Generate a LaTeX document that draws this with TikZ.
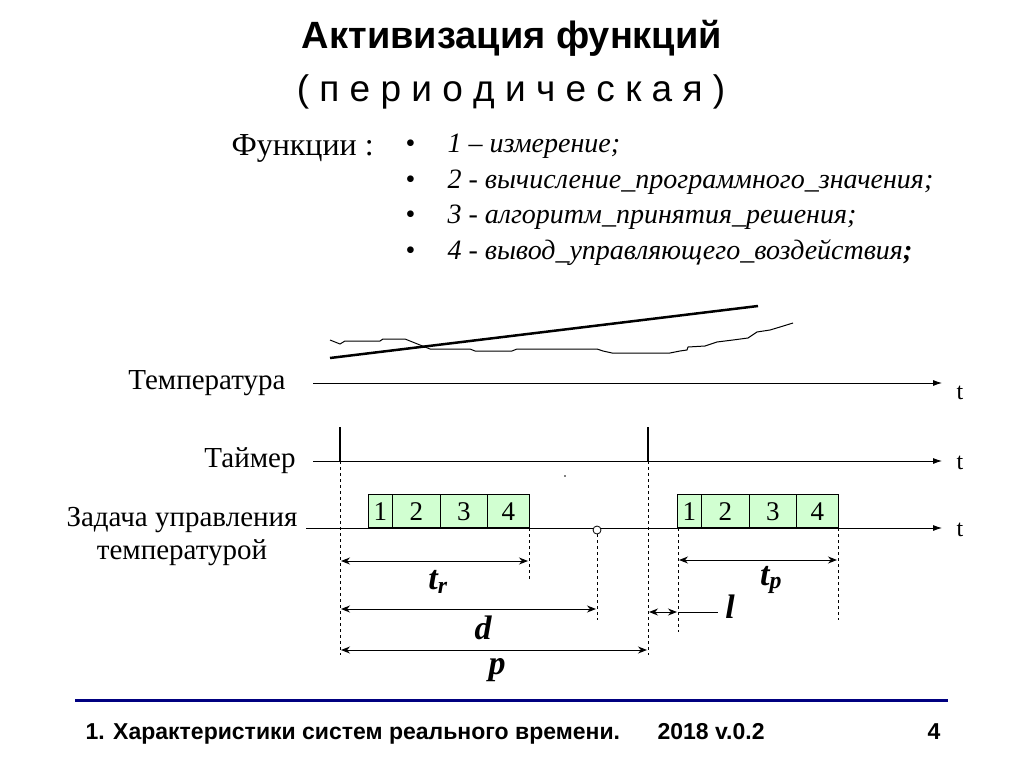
\documentclass[tikz,border=0pt]{standalone}
\usepackage{fontspec}
\setmainfont{Liberation Serif}
\setsansfont{Liberation Sans}
\usetikzlibrary{arrows.meta}
\begin{document}
\begin{tikzpicture}[x=1pt,y=-1pt,
  axis/.style={thick,-{Latex[length=9pt,width=6pt]}},
  dim/.style={line width=1pt,<->,>={Stealth[length=9pt,width=7pt]}},
  dsh/.style={dashed,thin},
  lbl/.style={font=\bfseries\itshape\fontsize{34}{36}\selectfont},
  fbox/.style={draw,thick,fill=green!18,minimum height=33pt,inner sep=0pt,text height=19pt,text depth=0pt,font=\fontsize{27}{28}\selectfont,anchor=south west}]
\useasboundingbox (0,0) rectangle (1024,767);
\node[font=\sffamily\bfseries\fontsize{38}{40}\selectfont] (title) at (512,38) {Активизация функций};
\node[font=\sffamily\fontsize{37}{40}\selectfont] (sub) at (511,92) {( п е р и о д и ч е с к а я )};
\node[font=\fontsize{32}{34}\selectfont,anchor=west] (fn) at (228,148) {Функции :};
\foreach \yy/\t [count=\i] in {146/{1 – измерение;},182/{2 - вычисление\_программного\_значения;},217/{3 - алгоритм\_принятия\_решения;},253/{4 - вывод\_управляющего\_воздействия\textbf{;}}}{
  \node[anchor=west] (b\i) at (402,\yy) {\fontsize{28}{30}\selectfont •};
  \node[anchor=west,font=\itshape\fontsize{28}{30}\selectfont] (l\i) at (444,\yy) {\t};
}
% temperature curve
\draw[line width=1pt] (330,340)--(340,344)--(345,341)--(380,341)--(383,339)--(405,339)--(430,349)--(470,349)--(475,351)--(512,351)--(517,349)--(597,349)--(603,351)--(612,353)--(670,353)--(680,351)--(687,350)--(688,347)--(705,346)--(717,342)--(733,340)--(748,338)--(757,332)--(770,330)--(780,327)--(793,323);
\draw[line width=2.5pt] (330,358)--(758,306);
% axes
\node[anchor=east,font=\fontsize{29}{30}\selectfont] (tl) at (289,383) {Температура};
\draw[axis] (313,383)--(942,383);
\node (t1) at (960,393) {\fontsize{24}{26}\selectfont t};
\node[anchor=east,font=\fontsize{29}{30}\selectfont] (ml) at (299,461) {Таймер};
\draw[axis] (313,461)--(942,461);
\node (t2) at (960,463) {\fontsize{24}{26}\selectfont t};
\draw[line width=2pt] (340,427)--(340,461) (648,427)--(648,461);
\fill (565,476) circle (0.8);
\node[align=center,font=\fontsize{29}{33}\selectfont] (zl) at (182,537) {Задача управления\\температурой};
\draw[axis] (306,528)--(942,528);
\node (t3) at (960,530) {\fontsize{24}{26}\selectfont t};
\foreach \s/\o in {a/0,b/309}{
  \node[fbox,minimum width=24pt] (\s1) at (368+\o,528) {1};
  \node[fbox,minimum width=48pt] (\s2) at (392+\o,528) {2};
  \node[fbox,minimum width=47pt] (\s3) at (440+\o,528) {3};
  \node[fbox,minimum width=42pt] (\s4) at (487+\o,528) {4};
}
\draw[dsh] (340,461)--(340,655) (529,528)--(529,580) (597,534)--(597,620) (648,461)--(648,655) (678,528)--(678,632) (838,528)--(838,620);
\node[draw,thick,fill=white,circle,inner sep=0pt,minimum size=8pt] (dl) at (597,530) {};
\draw[dim] (341,561)--(528,561);
\draw[dim] (341,609)--(596,609);
\draw[dim] (341,650)--(647,650);
\draw[dim] (649,612)--(677,612);
\draw[dim] (679,560)--(837,560);
\draw[thin] (678,612)--(718,612);
\node[lbl] (tr) at (438,582) {t\textsubscript{r}};
\node[lbl] (tp) at (771,580) {t\textsubscript{p}};
\node[lbl] (dd) at (483,628) {d};
\node[lbl] (pp) at (497,670) {p};
\node[lbl] (ll) at (730,607) {l};
\draw[line width=3pt,blue!50!black] (75,700)--(948,700);
\node[anchor=base west,font=\sffamily\bfseries\fontsize{23}{25}\selectfont] (f1) at (82,739) {1. Характеристики систем реального времени.};
\node[anchor=base west,font=\sffamily\bfseries\fontsize{23}{25}\selectfont] (f2) at (654,739) {2018 v.0.2};
\node[anchor=base west,font=\sffamily\bfseries\fontsize{23}{25}\selectfont] (f3) at (924,739) {4};
\end{tikzpicture}
\end{document}
